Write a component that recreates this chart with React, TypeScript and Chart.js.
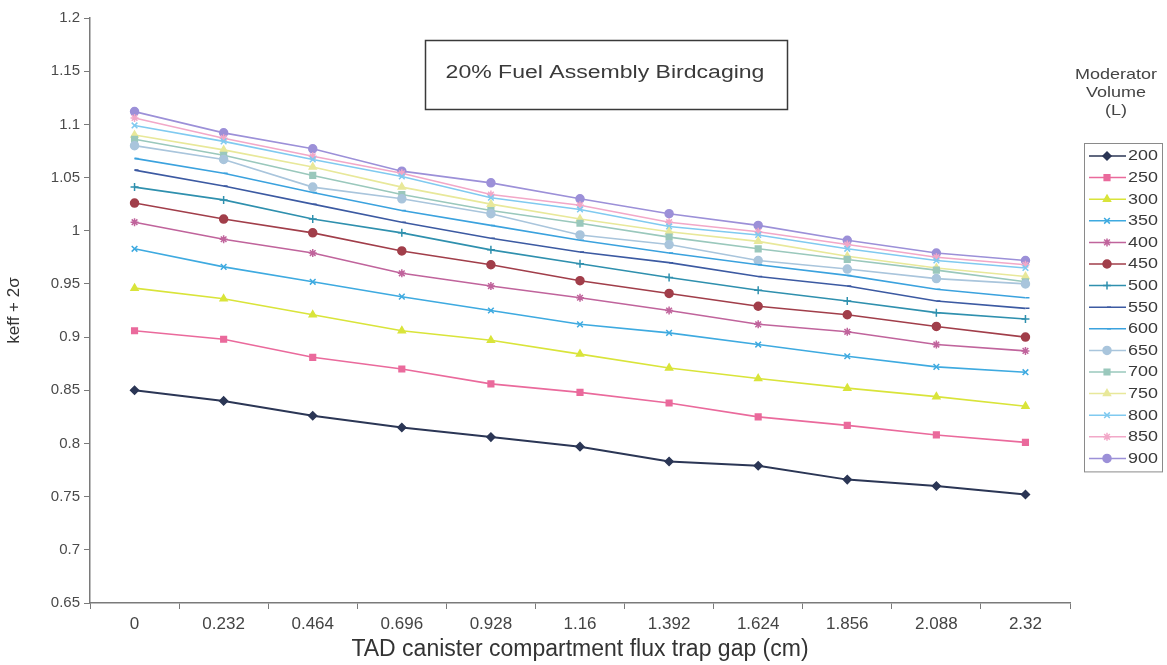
import React, { useEffect, useRef } from 'react';
import { Chart, registerables } from 'chart.js';
import { drawPoint } from 'chart.js/helpers';

Chart.register(...registerables);

// ---------- data ----------
const categories = ['0', '0.232', '0.464', '0.696', '0.928', '1.16', '1.392', '1.624', '1.856', '2.088', '2.32'];
const yTickValues = [0.65, 0.7, 0.75, 0.8, 0.85, 0.9, 0.95, 1.0, 1.05, 1.1, 1.15, 1.2];
const seriesNames = ['200', '250', '300', '350', '400', '450', '500', '550', '600', '650', '700', '750', '800', '850', '900'];

const v200 = [0.850, 0.840, 0.826, 0.815, 0.806, 0.797, 0.783, 0.779, 0.766, 0.760, 0.752];
const v250 = [0.906, 0.898, 0.881, 0.870, 0.856, 0.848, 0.838, 0.825, 0.817, 0.808, 0.801];
const v300 = [0.946, 0.936, 0.921, 0.906, 0.897, 0.884, 0.871, 0.861, 0.852, 0.844, 0.835];
const v350 = [0.983, 0.966, 0.952, 0.938, 0.925, 0.912, 0.904, 0.893, 0.882, 0.872, 0.867];
const v400 = [1.008, 0.992, 0.979, 0.960, 0.948, 0.937, 0.925, 0.912, 0.905, 0.893, 0.887];
const v450 = [1.026, 1.011, 0.998, 0.981, 0.968, 0.953, 0.941, 0.929, 0.921, 0.910, 0.900];
const v500 = [1.041, 1.029, 1.011, 0.998, 0.982, 0.969, 0.956, 0.944, 0.934, 0.923, 0.917];
const v550 = [1.057, 1.042, 1.025, 1.008, 0.993, 0.980, 0.970, 0.957, 0.948, 0.934, 0.927];
const v600 = [1.068, 1.054, 1.036, 1.019, 1.005, 0.991, 0.979, 0.968, 0.958, 0.945, 0.937];
const v650 = [1.080, 1.067, 1.041, 1.030, 1.016, 0.996, 0.987, 0.972, 0.964, 0.955, 0.950];
const v700 = [1.086, 1.071, 1.052, 1.034, 1.019, 1.007, 0.994, 0.983, 0.973, 0.963, 0.952];
const v750 = [1.090, 1.076, 1.060, 1.041, 1.025, 1.011, 0.999, 0.990, 0.976, 0.965, 0.957];
const v800 = [1.099, 1.084, 1.067, 1.051, 1.031, 1.020, 1.004, 0.996, 0.983, 0.972, 0.965];
const v850 = [1.106, 1.087, 1.070, 1.054, 1.034, 1.024, 1.008, 0.999, 0.987, 0.975, 0.968];
const v900 = [1.112, 1.092, 1.077, 1.056, 1.045, 1.030, 1.016, 1.005, 0.991, 0.979, 0.972];

const seriesValues = [v200, v250, v300, v350, v400, v450, v500, v550, v600, v650, v700, v750, v800, v850, v900];

const chartTitle = '20% Fuel Assembly Birdcaging';
const legendTitle = ['Moderator', 'Volume', '(L)'];
const xTitle = 'TAD canister compartment flux trap gap (cm)';
const yTitle = 'keff + 2σ';

// ---------- styles ----------
const seriesColors = [
  '#2b3655', '#ea6a9c', '#d9e43a', '#3eaae0', '#c0649c', '#a13e4a', '#2f90ae', '#3c5aa2',
  '#3ba2de', '#a9c5dc', '#9ac8bc', '#e8e89a', '#80caf0', '#f2a8c8', '#9c90d8',
];
const seriesPoints = [
  'rectRot', 'rect', 'triangle', 'crossRot', 'star', 'circle', 'cross', 'dash',
  'dash', 'circle', 'rect', 'triangle', 'crossRot', 'star', 'circle',
];

const FONT = "'Liberation Sans', Arial, sans-serif";

function stretchText(ctx: CanvasRenderingContext2D, text: string, x: number, y: number, sx: number, align: CanvasTextAlign) {
  ctx.save();
  ctx.translate(x, y);
  ctx.scale(sx, 1);
  ctx.textAlign = align;
  ctx.textBaseline = 'middle';
  ctx.fillText(text, 0, 0);
  ctx.restore();
}

const overlayPlugin = {
  id: 'overlay',
  beforeDraw(chart: any) {
    const ctx = chart.ctx as CanvasRenderingContext2D;
    ctx.save();
    ctx.fillStyle = '#ffffff';
    ctx.fillRect(0, 0, chart.width, chart.height);
    ctx.restore();
  },
  afterDraw(chart: any) {
    const ctx = chart.ctx as CanvasRenderingContext2D;
    ctx.save();
    // title box
    ctx.strokeStyle = '#3a3a3a';
    ctx.lineWidth = 1.5;
    ctx.strokeRect(425.5, 40.5, 362, 69);
    ctx.fillStyle = '#3a3a3a';
    ctx.font = `18px ${FONT}`;
    stretchText(ctx, chartTitle, 605, 73, 1.28, 'center');

    // legend title
    ctx.fillStyle = '#444';
    ctx.font = `15px ${FONT}`;
    legendTitle.forEach((t, i) => stretchText(ctx, t, 1116, 75 + i * 18, 1.2, 'center'));

    // legend box
    const top = 143;
    const step = 21.6;
    const bottom = top + 13 + step * (seriesNames.length - 1) + 13;
    ctx.strokeStyle = '#8a8a8a';
    ctx.lineWidth = 1;
    ctx.strokeRect(1084.5, top + 0.5, 78, bottom - top);
    seriesNames.forEach((name, i) => {
      const y = top + 13 + i * step;
      const c = seriesColors[i];
      ctx.strokeStyle = c;
      ctx.fillStyle = c;
      ctx.lineWidth = 1.5;
      ctx.beginPath();
      ctx.moveTo(1089, y);
      ctx.lineTo(1126, y);
      ctx.stroke();
      drawPoint(ctx, { pointStyle: seriesPoints[i] as any, radius: 4, rotation: 0, borderWidth: 1.5 } as any, 1107, y);
      ctx.fillStyle = '#3a3a3a';
      ctx.font = `14px ${FONT}`;
      stretchText(ctx, name, 1128, y + 0.5, 1.28, 'left');
    });
    ctx.restore();
  },
};

export default function App() {
  const ref = useRef<HTMLCanvasElement | null>(null);

  useEffect(() => {
    if (!ref.current) return;
    const datasets = seriesNames.map((name, i) => ({
      label: name,
      data: seriesValues[i],
      borderColor: seriesColors[i],
      backgroundColor: seriesColors[i],
      pointBackgroundColor: seriesColors[i],
      pointBorderColor: seriesColors[i],
      pointStyle: seriesPoints[i] as any,
      pointRadius: 4,
      pointBorderWidth: 1.5,
      borderWidth: i === 0 ? 2 : 1.6,
      tension: 0,
      fill: false,
    }));

    const chart = new Chart(ref.current, {
      type: 'line',
      data: { labels: categories, datasets },
      plugins: [overlayPlugin],
      options: {
        responsive: false,
        animation: false,
        layout: { padding: { left: 0, right: 97, top: 18, bottom: 0 } },
        plugins: {
          legend: { display: false },
          tooltip: { enabled: false },
          title: { display: false },
        },
        scales: {
          x: {
            type: 'category',
            offset: true,
            grid: { offset: true, drawOnChartArea: false, drawTicks: true, tickLength: 6, color: '#7a7a7a' },
            border: { color: '#7a7a7a', width: 1.5 },
            ticks: { color: '#444', font: { family: FONT, size: 17 }, padding: 5, maxRotation: 0, autoSkip: false },
            title: { display: true, text: xTitle, color: '#333', font: { family: FONT, size: 23 }, padding: { top: 0, bottom: 2 } },
            afterFit: (scale: any) => { scale.height = 62; },
          },
          y: {
            type: 'linear',
            min: 0.65,
            max: 1.2,
            afterBuildTicks: (scale: any) => { scale.ticks = yTickValues.map((v) => ({ value: v })); },
            grid: { drawOnChartArea: false, drawTicks: true, tickLength: 6, color: '#7a7a7a' },
            border: { color: '#7a7a7a', width: 1.5 },
            ticks: {
              color: '#4a4a4a',
              font: { family: FONT, size: 15 },
              padding: 4,
              callback: (v: any) => String(parseFloat(Number(v).toFixed(2))),
            },
            title: { display: true, text: yTitle, color: '#333', font: { family: FONT, size: 17 }, padding: { top: 4, bottom: 0 } },
            afterFit: (scale: any) => { scale.width = 90; },
          },
        },
      },
    });
    return () => chart.destroy();
  }, []);

  return (
    <div style={{ position: 'absolute', left: 0, top: 0, width: 1167, height: 665, background: '#fff' }}>
      <canvas ref={ref} width={1167} height={665} style={{ width: 1167, height: 665, display: 'block' }} />
    </div>
  );
}
